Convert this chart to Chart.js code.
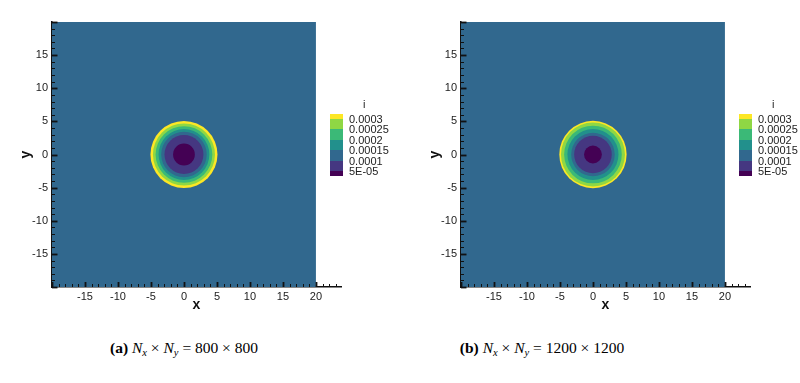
<!DOCTYPE html>
<html>
<head>
<meta charset="utf-8">
<script src="https://cdn.jsdelivr.net/npm/chart.js@4.4.1/dist/chart.umd.min.js"></script>
<style>
body { margin:0; background:#fff; width:800px; height:383px; overflow:hidden; position:relative; font-family:"Liberation Sans", Arial, sans-serif; }
canvas.panel { position:absolute; top:0; }
.cbar { position:absolute; }
.band { position:absolute; left:0; width:13px; }
.lvl { position:absolute; font-size:11px; color:#222; line-height:12px; white-space:nowrap; }
.ctitle { position:absolute; font-size:11px; color:#222; }
.caption { position:absolute; top:339px; width:320px; text-align:center; font-family:"Liberation Serif", "Times New Roman", serif; font-size:15.5px; color:#000; }
.caption sub { font-size:10.5px; vertical-align:-3px; line-height:0; }
</style>
</head>
<body>
<canvas id="chartA" class="panel" width="400" height="320" style="left:0px"></canvas>
<canvas id="chartB" class="panel" width="400" height="320" style="left:409px"></canvas>
<script>
// axes
const xAxisRange = [-20, 23.8];
const yAxisRange = [-20, 20];
const fieldExtent = [-20, 20];
const xTickLabels = [-15, -10, -5, 0, 5, 10, 15, 20];
const yTickLabels = [-15, -10, -5, 0, 5, 10, 15];

// contour levels (colour bar, top to bottom)
const levelTitle = 'i';
const levelLabels = ['0.0003', '0.00025', '0.0002', '0.00015', '0.0001', '5E-05'];
const levelColors = ['#fde725', '#8fd744', '#3bb977', '#22908c', '#31688e', '#453781', '#440154'];
const fieldColor = '#31688e';

// outer radius of each filled contour band, outermost (yellow) first
const ringRadiiA = [5.08, 4.7, 4.3, 3.85, 3.45, 2.95, 1.65];
const ringRadiiB = [5.1, 4.85, 4.37, 3.87, 3.3, 2.85, 1.35];

const captions = [
  '<b>(a)</b> <i>N</i><sub><i>x</i></sub> × <i>N</i><sub><i>y</i></sub> = 800 × 800',
  '<b>(b)</b> <i>N</i><sub><i>x</i></sub> × <i>N</i><sub><i>y</i></sub> = 1200 × 1200'
];

const inwardTicks = {
  id: 'inwardTicks',
  afterDraw(chart) {
    const {ctx, scales: {x, y}} = chart;
    ctx.save();
    ctx.strokeStyle = '#111';
    x.ticks.forEach(t => {
      const major = t.value % 5 === 0;
      const px = Math.round(x.getPixelForValue(t.value)) + 0.5;
      ctx.lineWidth = major ? 1.8 : 1;
      ctx.beginPath();
      ctx.moveTo(px, x.top);
      ctx.lineTo(px, x.top - (major ? 5 : 3));
      ctx.stroke();
    });
    y.ticks.forEach(t => {
      const major = t.value % 5 === 0;
      const py = Math.round(y.getPixelForValue(t.value)) + 0.5;
      ctx.lineWidth = major ? 1.8 : 1;
      ctx.beginPath();
      ctx.moveTo(y.right, py);
      ctx.lineTo(y.right + (major ? 5.5 : 3), py);
      ctx.stroke();
    });
    ctx.restore();
  }
};

function integerTicks(lo, hi) {
  const out = [];
  for (let v = Math.ceil(lo); v <= hi; v++) out.push({value: v});
  return out;
}

function createContourChart(canvasId, radii) {
  const ringSets = radii.map((r, i) => ({
    type: 'scatter',
    data: [{x: 0, y: 0}],
    ringR: r,
    backgroundColor: levelColors[i],
    borderWidth: 0,
    pointRadius: ctx => {
      const s = ctx.chart.scales.x;
      return Math.abs(s.getPixelForValue(ctx.dataset.ringR) - s.getPixelForValue(0));
    },
    order: radii.length - i + 1
  }));
  const field = {
    type: 'line',
    data: [{x: fieldExtent[0], y: fieldExtent[1]}, {x: fieldExtent[1], y: fieldExtent[1]}],
    backgroundColor: fieldColor,
    borderWidth: 0,
    pointRadius: 0,
    fill: 'start',
    order: 100
  };
  const tickFont = {family: '"Liberation Sans", Arial, sans-serif', size: 11};
  const titleFont = {family: '"Liberation Sans", Arial, sans-serif', size: 14, weight: 'bold'};
  return new Chart(canvasId, {
    type: 'scatter',
    data: {datasets: [field, ...ringSets]},
    options: {
      responsive: false,
      animation: false,
      events: [],
      layout: {padding: {top: 22, right: 59, left: 0, bottom: 0}},
      plugins: {legend: {display: false}, tooltip: {enabled: false}},
      scales: {
        x: {
          type: 'linear',
          min: xAxisRange[0],
          max: xAxisRange[1],
          afterBuildTicks: s => { s.ticks = integerTicks(xAxisRange[0], xAxisRange[1]); },
          afterFit: s => { s.height = 33; },
          grid: {display: false, drawTicks: false},
          border: {display: true, color: '#111', width: 1.5},
          ticks: {
            autoSkip: false, maxRotation: 0, padding: 3, color: '#222', font: tickFont,
            callback: v => xTickLabels.includes(v) ? String(v) : ''
          },
          title: {display: true, text: 'x', color: '#111', font: titleFont, padding: {top: 0, bottom: 6.6}}
        },
        y: {
          type: 'linear',
          min: yAxisRange[0],
          max: yAxisRange[1],
          afterBuildTicks: s => { s.ticks = integerTicks(yAxisRange[0], yAxisRange[1]); },
          afterFit: s => { s.width = 52; },
          grid: {display: false, drawTicks: false},
          border: {display: true, color: '#111', width: 1.5},
          ticks: {
            autoSkip: false, padding: 4, color: '#222', font: tickFont,
            callback: v => yTickLabels.includes(v) ? String(v) : ''
          },
          title: {display: true, text: 'y', color: '#111', font: titleFont, padding: {top: 17.6, bottom: 0}}
        }
      }
    },
    plugins: [inwardTicks]
  });
}

function addColorBar(left) {
  const bar = document.createElement('div');
  bar.className = 'cbar';
  bar.style.left = left + 'px';
  bar.style.top = '114px';
  const edgeH = 5, midH = 10.4;
  let y = 0;
  levelColors.forEach((c, i) => {
    const h = (i === 0 || i === levelColors.length - 1) ? edgeH : midH;
    const b = document.createElement('div');
    b.className = 'band';
    b.style.top = y + 'px';
    b.style.height = (h + 0.3) + 'px';
    b.style.background = c;
    bar.appendChild(b);
    y += h;
    if (i < levelLabels.length) {
      const l = document.createElement('div');
      l.className = 'lvl';
      l.style.left = '19px';
      l.style.top = (y - 6) + 'px';
      l.textContent = levelLabels[i];
      bar.appendChild(l);
    }
  });
  const t = document.createElement('div');
  t.className = 'ctitle';
  t.style.left = '33px';
  t.style.top = '-16px';
  t.textContent = levelTitle;
  bar.appendChild(t);
  document.body.appendChild(bar);
}

function addCaption(center, html) {
  const d = document.createElement('div');
  d.className = 'caption';
  d.style.left = (center - 160) + 'px';
  d.innerHTML = html;
  document.body.appendChild(d);
}

createContourChart('chartA', ringRadiiA);
createContourChart('chartB', ringRadiiB);
addColorBar(330);
addColorBar(739);
addCaption(184, captions[0]);
addCaption(542, captions[1]);
</script>
</body>
</html>
